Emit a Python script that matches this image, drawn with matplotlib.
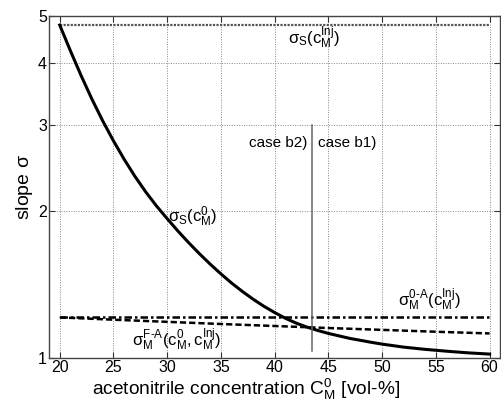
import numpy as np
import matplotlib
matplotlib.use('Agg')
import matplotlib.pyplot as plt
from matplotlib.ticker import FixedLocator, NullLocator, FixedFormatter

plt.rcParams['font.family'] = ['Liberation Sans', 'DejaVu Sans']
plt.rcParams['mathtext.fontset'] = 'custom'
plt.rcParams['mathtext.rm'] = 'Liberation Sans'
plt.rcParams['mathtext.it'] = 'Liberation Sans'
plt.rcParams['mathtext.bf'] = 'Liberation Sans:bold'

# acetonitrile concentration [vol-%]
conc = [20, 21, 22, 23, 24, 25, 26, 27, 28, 29, 30, 31, 32, 33, 34, 35, 36,
        37, 38, 39, 40, 41, 42, 43, 44, 45, 46, 47, 48, 49, 50, 52, 54, 56,
        58, 60]
# sigma_S(c_M^0)
sigma_s = [4.792, 4.242, 3.773, 3.380, 3.053, 2.779, 2.547, 2.351, 2.186,
           2.046, 1.927, 1.818, 1.721, 1.634, 1.556, 1.486, 1.423, 1.368,
           1.319, 1.276, 1.239, 1.206, 1.179, 1.157, 1.139, 1.123, 1.110,
           1.097, 1.087, 1.077, 1.068, 1.053, 1.042, 1.033, 1.025, 1.019]

# straight lines
conc_line = [20, 60]
sigma_s_inj = [4.79, 4.79]
sigma_0a = [1.211, 1.211]

# sigma_M^F-A
conc_fa = [20, 25, 30, 35, 40, 45, 50, 55, 60]
sigma_fa = [1.211, 1.198, 1.186, 1.174, 1.163, 1.152, 1.142, 1.132, 1.123]

# boundary between case b2) and case b1)
x_case = 43.5
case_range = [1.033, 3.0]

fig = plt.figure(figsize=(5.02, 4.01), dpi=100)
ax = fig.add_axes([0.0976, 0.107, 0.898, 0.853])

ax.plot(conc_line, sigma_s_inj, color='#555555', lw=1.6, ls=(0, (1, 0.6)))
ax.plot(conc, sigma_s, color='black', lw=2.2)
ax.plot(conc_line, sigma_0a, color='black', lw=1.8, ls=(0, (3, 1.2, 1, 1.2)))
ax.plot(conc_fa, sigma_fa, color='black', lw=1.8, ls=(0, (2.5, 1.2)))
ax.plot([x_case, x_case], case_range, color='#666666', lw=1.1)

ax.set_yscale('log')
ax.set_xlim(19.0, 60.95)
ax.set_ylim(1, 5)
ax.xaxis.set_major_locator(FixedLocator(range(20, 61, 5)))
ax.yaxis.set_major_locator(FixedLocator([1, 2, 3, 4, 5]))
ax.yaxis.set_major_formatter(FixedFormatter(['1', '2', '3', '4', '5']))
ax.yaxis.set_minor_locator(NullLocator())

ax.grid(True, which='major', color='#888888', ls=(0, (1, 1.5)), lw=0.7)
ax.tick_params(direction='in', length=4, width=0.8, top=True, right=True,
               labelsize=11.5, colors='#333333', labelcolor='black', pad=1.5)
for s in ax.spines.values():
    s.set_color('#444444')
    s.set_linewidth(1.0)

ax.set_xlabel(r'acetonitrile concentration C$_\mathrm{M}^\mathrm{0}$ [vol-%]',
              fontsize=13.8, va='baseline')
ax.xaxis.set_label_coords(0.437, -0.109)
ax.set_ylabel(r'slope $\sigma$', fontsize=14, labelpad=2)

ax.text(41.25, 4.51, r'$\sigma_\mathrm{S}(\mathrm{c}_\mathrm{M}^\mathrm{Inj})$',
        fontsize=12, va='center', ha='left')
ax.text(30.05, 1.944, r'$\sigma_\mathrm{S}(\mathrm{c}_\mathrm{M}^\mathrm{0})$',
        fontsize=12, va='center', ha='left')
ax.text(51.5, 1.314, r'$\sigma_\mathrm{M}^\mathrm{0\text{-}A}(\mathrm{c}_\mathrm{M}^\mathrm{Inj})$',
        fontsize=12, va='center', ha='left')
ax.text(26.75, 1.088,
        r'$\sigma_\mathrm{M}^\mathrm{F\text{-}A}(\mathrm{c}_\mathrm{M}^\mathrm{0},\mathrm{c}_\mathrm{M}^\mathrm{Inj})$',
        fontsize=12, va='center', ha='left')
ax.text(43.0, 2.75, 'case b2)', fontsize=11, va='center', ha='right')
ax.text(44.0, 2.75, 'case b1)', fontsize=11, va='center', ha='left')

fig.savefig('out.png', dpi=100)
